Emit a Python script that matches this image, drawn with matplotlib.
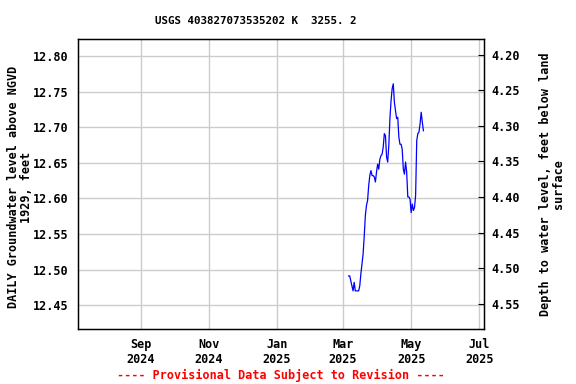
import pandas as pd
import matplotlib
matplotlib.use("Agg")
import matplotlib.pyplot as plt
import matplotlib.dates as mdates

# daily groundwater level, feet above NGVD 1929
start_date = "2025-03-06"
levels = [
    12.491, 12.491, 12.484, 12.477, 12.470, 12.482, 12.470, 12.470, 12.470, 12.470,
    12.477, 12.494, 12.508, 12.522, 12.547, 12.576, 12.590, 12.597, 12.618, 12.632,
    12.639, 12.632, 12.632, 12.630, 12.623, 12.637, 12.648, 12.641, 12.655, 12.660,
    12.662, 12.672, 12.691, 12.688, 12.658, 12.651, 12.674, 12.712, 12.737, 12.754,
    12.761, 12.735, 12.723, 12.712, 12.714, 12.686, 12.676, 12.676, 12.669, 12.641,
    12.634, 12.651, 12.637, 12.602, 12.602, 12.599, 12.580, 12.592, 12.583, 12.587,
    12.604, 12.681, 12.691, 12.693, 12.705, 12.721, 12.707, 12.695,
]
dates = pd.date_range(start_date, periods=len(levels), freq="D")

land_surface = 17.002  # depth = land_surface - level

title = "USGS 403827073535202 K  3255. 2"
left_label = "DAILY Groundwater level above NGVD\n1929, feet"
right_label = "Depth to water level, feet below land\nsurface"
footer = "---- Provisional Data Subject to Revision ----"

left_ticks = [12.45, 12.50, 12.55, 12.60, 12.65, 12.70, 12.75, 12.80]
right_ticks = [4.20, 4.25, 4.30, 4.35, 4.40, 4.45, 4.50, 4.55]

plt.rcParams["font.family"] = "DejaVu Sans Mono"
plt.rcParams["font.weight"] = "bold"
fs = 8.5

fig = plt.figure(figsize=(5.76, 3.84), dpi=100)
ax_w = (484.3 - 78.3) / 576
ax = fig.add_axes([78.3 / 576, 1 - 329.3 / 384, ax_w, (329.3 - 39.3) / 384])

ax.plot(dates, levels, color="#0000ff", linewidth=0.9)

ax.set_xlim(pd.Timestamp("2024-07-07"), pd.Timestamp("2025-07-05 12:00"))
ax.set_ylim(12.416, 12.8235)
ax.set_yticks(left_ticks)
ax.set_yticklabels([f"{v:.2f}" for v in left_ticks], fontsize=fs, fontweight="bold")
ax.xaxis.set_major_locator(mdates.MonthLocator(bymonth=[1, 3, 5, 7, 9, 11]))
ax.xaxis.set_major_formatter(mdates.DateFormatter("%b\n%Y"))
for lbl in ax.get_xticklabels():
    lbl.set_fontsize(fs)
    lbl.set_fontweight("bold")
ax.tick_params(axis="x", length=0, pad=6, labelsize=fs)
ax.tick_params(axis="y", length=0, pad=7, labelsize=fs)
ax.grid(True, color="#cccccc", linewidth=1.0)
ax.set_axisbelow(True)
for sp in ax.spines.values():
    sp.set_linewidth(1.0)
ax.set_ylabel(left_label, fontsize=fs, fontweight="bold", linespacing=1.0)
ax.yaxis.set_label_coords((33 - 78.3) / 406, 0.49)

ax2 = ax.twinx()
lo, hi = ax.get_ylim()
ax2.set_ylim(land_surface - lo, land_surface - hi)
ax2.set_yticks(right_ticks)
ax2.set_yticklabels([f"{v:.2f}" for v in right_ticks], fontsize=fs, fontweight="bold")
ax2.tick_params(axis="y", direction="in", length=4, pad=5, labelsize=fs)
ax2.set_ylabel(right_label, fontsize=fs, fontweight="bold", linespacing=1.0)
ax2.yaxis.set_label_coords((539 - 78.3) / 406, 0.5)

fig.text(256 / 576, 1 - 20.5 / 384, title, ha="center", va="center", fontsize=7.8, fontweight="bold")
fig.text(281 / 576, 1 - 375 / 384, footer, ha="center", va="center", fontsize=fs,
         fontweight="bold", color="red")

fig.savefig("out.png", dpi=100)
